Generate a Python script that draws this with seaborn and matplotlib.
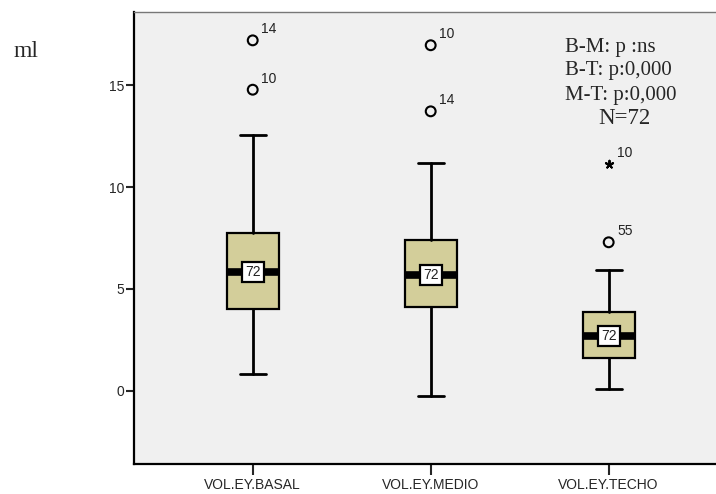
import numpy as np
import pandas as pd
import seaborn as sns
import matplotlib.pyplot as plt

# box statistics (ml)
groups = ["VOL.EY.BASAL", "VOL.EY.MEDIO", "VOL.EY.TECHO"]
q1 = [4.0, 4.1, 1.63]
median = [5.82, 5.7, 2.71]
q3 = [7.73, 7.4, 3.86]
whis_lo = [0.82, -0.25, 0.1]
whis_hi = [12.55, 11.2, 5.95]
n_cases = [72, 72, 72]

# outliers: group index, value, case label, kind
out_group = [0, 0, 1, 1, 2, 2]
out_value = [17.19, 14.77, 16.95, 13.71, 11.13, 7.29]
out_case = ["14", "10", "10", "14", "10", "55"]
out_kind = ["o", "o", "o", "o", "extreme", "o"]

stats_lines = ["B-M: p :ns", "B-T: p:0,000", "M-T: p:0,000"]
n_label = "N=72"

sns.set_style("white")
plt.rcParams["font.family"] = ["Liberation Sans", "DejaVu Sans"]

fig = plt.figure(figsize=(7.16, 4.94), dpi=100)
ax = fig.add_axes([134 / 716, 30 / 494, 582 / 716, 452 / 494])
ax.set_facecolor("#f0f0f0")

stats = [
    dict(med=median[i], q1=q1[i], q3=q3[i], whislo=whis_lo[i], whishi=whis_hi[i], fliers=[], label=g)
    for i, g in enumerate(groups)
]
ax.bxp(
    stats, positions=range(len(groups)), widths=0.292, capwidths=0.146,
    patch_artist=True, showfliers=False, manage_ticks=False,
    boxprops=dict(facecolor="#d3ce9a", edgecolor="black", linewidth=1.6),
    whiskerprops=dict(color="black", linewidth=2),
    capprops=dict(color="black", linewidth=2),
    medianprops=dict(color="black", linewidth=5.5, solid_capstyle="butt"),
    zorder=2,
)

# median case count boxes
for i, m in enumerate(median):
    ax.text(i, m, str(n_cases[i]), ha="center", va="center", fontsize=10, zorder=5,
            color="#222222",
            bbox=dict(boxstyle="square,pad=0.22", fc="white", ec="black", lw=1.6))

out_df = pd.DataFrame({"x": out_group, "y": out_value, "case": out_case, "kind": out_kind})
circ = out_df[out_df["kind"] == "o"]
ext = out_df[out_df["kind"] == "extreme"]
sns.scatterplot(data=circ, x="x", y="y", ax=ax, marker="o", s=50,
                facecolor="none", edgecolor="black", linewidth=1.5, zorder=4)
sns.scatterplot(data=ext, x="x", y="y", ax=ax, marker=(5, 2, 0), s=30,
                color="black", linewidth=1.4, zorder=4)
for _, r in out_df.iterrows():
    ax.annotate(r["case"], (r["x"], r["y"]), xytext=(6, 5), textcoords="offset points",
                fontsize=10, color="#222222")

ax.set_xlim(-0.667, 2.603)
ax.set_ylim(-3.58, 18.58)
ax.set_xticks(range(len(groups)))
ax.set_xticklabels(groups, fontsize=10)
ax.set_yticks([0, 5, 10, 15])
ax.set_yticklabels(["0", "5", "10", "15"], fontsize=10)
ax.tick_params(axis="y", direction="out", length=6, width=1.5, pad=1, left=True)
ax.tick_params(axis="x", direction="out", length=8, width=1.5, pad=2, bottom=True)
ax.set_xlabel("")
ax.set_ylabel("")

for s in ["left", "bottom"]:
    ax.spines[s].set_color("black")
    ax.spines[s].set_linewidth(1.6)
ax.spines["top"].set_color("#777777")
ax.spines["top"].set_linewidth(1.0)
ax.spines["right"].set_visible(False)

serif = ["Liberation Serif", "DejaVu Serif"]
fig.text(13 / 716, 1 - 57 / 494, "ml", family=serif, fontsize=17)
for txt, yb in zip(stats_lines, [52, 75, 100]):
    fig.text(565 / 716, 1 - yb / 494, txt, family=serif, fontsize=15)
fig.text(598 / 716, 1 - 124 / 494, n_label, family=serif, fontsize=16.5)

fig.savefig("out.png", dpi=100)
